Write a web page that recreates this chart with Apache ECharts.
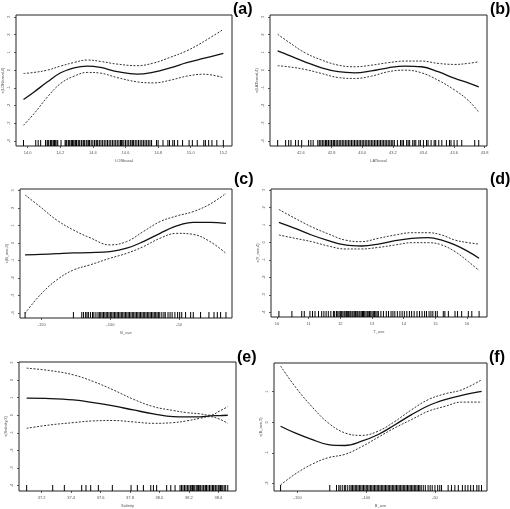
<!DOCTYPE html>
<html><head><meta charset="utf-8">
<script src="https://cdn.jsdelivr.net/npm/echarts@6/dist/echarts.min.js"></script>
<style>html,body{margin:0;padding:0;background:#fff}#c{width:510px;height:509px}</style>
</head><body><div id="c"></div>
<script>
// ---------- Panel (a) ----------
const xA = [13.975, 14.040, 14.122, 14.203, 14.285, 14.366, 14.447, 14.549, 14.671, 14.773, 14.874, 14.976, 15.078, 15.200];
const fitA = [-1.66, -1.23, -0.66, -0.15, 0.13, 0.23, 0.15, -0.08, -0.23, -0.11, 0.13, 0.42, 0.66, 0.94];
const upA = [-0.19, -0.13, 0.00, 0.23, 0.43, 0.57, 0.49, 0.34, 0.25, 0.40, 0.72, 1.09, 1.60, 2.30];
const loA = [-3.11, -2.45, -1.51, -0.75, -0.34, -0.13, -0.17, -0.42, -0.66, -0.72, -0.57, -0.34, -0.23, -0.42];
const rugA = [13.975, 14.05, 14.065, 14.08, 14.11, 14.12, 14.125, 14.13, 14.14, 14.145, 14.15, 14.16, 14.165, 14.17, 14.18, 14.185, 14.205, 14.23, 14.235, 14.24, 14.25, 14.255, 14.26, 14.27, 14.275, 14.28, 14.29, 14.295, 14.30, 14.31, 14.315, 14.32, 14.33, 14.34, 14.345, 14.35, 14.36, 14.37, 14.375, 14.38, 14.39, 14.40, 14.41, 14.42, 14.425, 14.43, 14.44, 14.45, 14.46, 14.47, 14.48, 14.49, 14.50, 14.51, 14.52, 14.53, 14.54, 14.55, 14.56, 14.57, 14.575, 14.58, 14.59, 14.60, 14.61, 14.62, 14.63, 14.64, 14.645, 14.65, 14.66, 14.67, 14.68, 14.69, 14.70, 14.71, 14.72, 14.73, 14.74, 14.75, 14.76, 14.79, 14.80, 14.83, 14.86, 14.87, 14.89, 14.90, 14.92, 14.95, 14.99, 15.01, 15.04, 15.08, 15.09, 15.11, 15.13, 15.16, 15.20];
const xTicksA = ['14.0', '14.2', '14.4', '14.6', '14.8', '15.0', '15.2'];
// ---------- Panel (b) ----------
const xB = [42.448, 42.517, 42.626, 42.735, 42.844, 42.952, 43.061, 43.170, 43.278, 43.387, 43.496, 43.605, 43.692, 43.761];
const fitB = [1.09, 0.85, 0.47, 0.13, -0.09, -0.15, -0.04, 0.13, 0.23, 0.19, -0.09, -0.47, -0.72, -0.94];
const upB = [2.02, 1.60, 0.98, 0.57, 0.28, 0.19, 0.28, 0.42, 0.51, 0.51, 0.38, 0.32, 0.38, 0.47];
const loB = [0.25, 0.19, 0.04, -0.19, -0.42, -0.47, -0.34, -0.09, 0.00, -0.15, -0.57, -1.13, -1.70, -2.36];
const rugB = [42.448, 42.50, 42.52, 42.535, 42.565, 42.583, 42.605, 42.65, 42.665, 42.68, 42.71, 42.72, 42.73, 42.74, 42.75, 42.76, 42.765, 42.77, 42.78, 42.79, 42.80, 42.81, 42.815, 42.82, 42.83, 42.84, 42.85, 42.86, 42.87, 42.88, 42.89, 42.90, 42.91, 42.92, 42.93, 42.94, 42.95, 42.96, 42.97, 42.98, 42.99, 43.00, 43.01, 43.02, 43.03, 43.04, 43.05, 43.06, 43.07, 43.08, 43.09, 43.10, 43.11, 43.12, 43.13, 43.14, 43.15, 43.16, 43.17, 43.18, 43.19, 43.20, 43.21, 43.23, 43.25, 43.26, 43.27, 43.29, 43.30, 43.31, 43.33, 43.34, 43.35, 43.37, 43.38, 43.40, 43.42, 43.43, 43.45, 43.47, 43.48, 43.50, 43.52, 43.55, 43.57, 43.58, 43.60, 43.62, 43.65, 43.735, 43.761];
const xTicksB = ['42.6', '42.8', '43.0', '43.2', '43.4', '43.6', '43.8'];
// ---------- Panel (c) ----------
const xC = [-162.1, -151.2, -139.1, -126.9, -114.8, -100.2, -88.1, -76.0, -63.8, -51.7, -39.6, -27.4, -15.8];
const fitC = [-0.68, -0.65, -0.61, -0.57, -0.55, -0.49, -0.30, 0.08, 0.55, 0.97, 1.18, 1.18, 1.12];
const upC = [2.74, 2.07, 1.31, 0.74, 0.30, -0.11, 0.08, 0.65, 1.22, 1.54, 1.79, 2.22, 2.83];
const loC = [-4.01, -2.97, -2.11, -1.54, -1.25, -0.87, -0.59, -0.21, 0.27, 0.55, 0.49, 0.08, -0.59];
const rugC = [-162.1, -126.9, -120.8, -119.5, -118, -117, -116, -114.5, -113, -112, -110.5, -109, -108, -107, -106, -105, -104, -103, -102, -101, -100, -99, -98, -97, -96, -95, -94, -93, -92, -91, -90, -89, -88, -87, -86, -85, -84, -83, -82, -81, -80, -79, -78, -77, -76, -75, -74, -73, -72, -71, -70, -69, -68, -67, -66, -65, -64, -62.5, -61, -60, -58, -56.5, -55, -53, -51, -49.5, -48, -45.2, -41.5, -39.6, -34.3, -28.2, -24.5, -22.1, -19.7, -15.8];
const xTicksC = ['-150', '-100', '-50'];
// ---------- Panel (d) ----------
const xD = [10.06, 10.57, 11.09, 11.62, 12.15, 12.67, 13.20, 13.73, 14.25, 14.78, 15.20, 15.62, 16.04, 16.38];
const fitD = [1.14, 0.80, 0.42, 0.10, -0.15, -0.21, -0.10, 0.10, 0.23, 0.27, 0.13, -0.15, -0.53, -0.91];
const upD = [1.88, 1.37, 0.89, 0.48, 0.13, 0.04, 0.23, 0.42, 0.55, 0.55, 0.42, 0.13, -0.02, -0.10];
const loD = [0.42, 0.23, 0.04, -0.21, -0.38, -0.38, -0.29, -0.15, -0.02, -0.02, -0.15, -0.53, -1.10, -1.62];
const rugD = [10.06, 10.47, 10.78, 10.86, 11.04, 11.12, 11.20, 11.31, 11.41, 11.48, 11.55, 11.62, 11.70, 11.78, 11.82, 11.88, 11.92, 11.96, 12.00, 12.04, 12.08, 12.12, 12.15, 12.19, 12.22, 12.26, 12.30, 12.33, 12.37, 12.40, 12.44, 12.48, 12.52, 12.55, 12.59, 12.62, 12.66, 12.70, 12.73, 12.77, 12.81, 12.85, 12.88, 12.92, 12.96, 13.00, 13.04, 13.08, 13.12, 13.16, 13.20, 13.28, 13.36, 13.45, 13.52, 13.60, 13.66, 13.72, 13.80, 13.88, 13.95, 14.02, 14.10, 14.18, 14.25, 14.33, 14.42, 14.50, 14.58, 14.66, 14.72, 14.80, 14.86, 14.92, 15.00, 15.06, 15.25, 15.30, 15.41, 15.62, 15.70, 15.83, 16.04, 16.15, 16.38];
const xTicksD = ['10', '11', '12', '13', '14', '15', '16'];
// ---------- Panel (e) ----------
const xE = [37.098, 37.257, 37.415, 37.551, 37.687, 37.823, 37.959, 38.094, 38.185, 38.276, 38.343, 38.411, 38.464];
const fitE = [0.97, 0.95, 0.87, 0.72, 0.53, 0.30, 0.08, -0.08, -0.09, -0.09, -0.04, -0.02, 0.00];
const upE = [2.68, 2.54, 2.30, 1.92, 1.44, 0.91, 0.49, 0.27, 0.15, 0.08, 0.00, 0.25, 0.49];
const loE = [-0.74, -0.55, -0.42, -0.32, -0.30, -0.38, -0.46, -0.42, -0.32, -0.17, -0.08, -0.23, -0.46];
const rugE = [37.098, 37.275, 37.354, 37.472, 37.501, 37.533, 37.585, 37.680, 37.807, 37.850, 37.891, 37.941, 37.959, 37.981, 38.049, 38.077, 38.106, 38.14, 38.15, 38.16, 38.17, 38.18, 38.19, 38.20, 38.21, 38.22, 38.225, 38.23, 38.24, 38.25, 38.26, 38.265, 38.27, 38.28, 38.29, 38.30, 38.31, 38.315, 38.32, 38.33, 38.34, 38.35, 38.36, 38.365, 38.37, 38.38, 38.39, 38.40, 38.41, 38.415, 38.42, 38.43, 38.44, 38.45, 38.464];
const xTicksE = ['37.2', '37.4', '37.6', '37.8', '38.0', '38.2', '38.4'];
// ---------- Panel (f) ----------
const xF = [-162.4, -151.9, -139.8, -127.7, -115.5, -103.4, -91.3, -79.1, -67.0, -54.9, -42.7, -30.6, -16.0];
const fitF = [-0.13, -0.35, -0.56, -0.73, -0.76, -0.62, -0.40, -0.08, 0.25, 0.54, 0.74, 0.88, 1.01];
const upF = [1.84, 1.17, 0.52, -0.02, -0.35, -0.43, -0.29, 0.03, 0.41, 0.74, 0.93, 1.06, 1.39];
const loF = [-2.05, -1.70, -1.38, -1.16, -1.05, -0.80, -0.49, -0.18, 0.09, 0.36, 0.52, 0.66, 0.66];
const rugF = [-162.4, -126.6, -121.7, -120, -119, -117.5, -116, -115, -113.5, -112, -111, -110, -109, -108, -107, -106, -105, -104, -103, -102, -101, -100, -99, -98, -97, -96, -95, -94, -93, -92, -91, -90, -89, -88, -87, -86, -85, -84, -83, -82, -81, -80, -79, -78, -77, -76, -75, -74, -73, -72, -71, -70, -69, -68, -67, -66, -65, -64, -63, -62, -61, -60, -58.5, -57, -55, -53.5, -52, -50, -48, -46.5, -45.2, -40.4, -38, -35.5, -33, -30, -28, -26, -24, -22, -19.5, -18, -16.1];
const xTicksF = ['-150', '-100', '-50'];
// ---------- Y tick labels ----------
const yTicks8 = ['3', '2', '1', '0', '-1', '-2', '-3', '-4'];
const yTicks4 = ['1', '0', '-1', '-2'];
// ---------- Labels ----------
const panelLetters = ['(a)', '(b)', '(c)', '(d)', '(e)', '(f)'];
const xNames = ['LONbasal', 'LATbasal', 'B_ave', 'T_ave', 'Salinity', 'B_ave'];
const yNames = ['s(LONbasal,4)', 's(LATbasal,4)', 's(B_ave,4)', 's(T_ave,4)', 's(Salinity,3)', 's(B_ave,3)'];

// ---------- Layout (positions/styles) ----------
const panels = [
  {x: xA, fit: fitA, up: upA, lo: loA, rug: rugA, xt: xTicksA, yt: yTicks8, grid: [15, 15, 217, 131], xr: [13.929, 15.253], yr: [-4.277, 3.107], letter: [233, 2]},
  {x: xB, fit: fitB, up: upB, lo: loB, rug: rugB, xt: xTicksB, yt: yTicks8, grid: [270, 15, 217, 131], xr: [42.398, 43.815], yr: [-4.277, 3.107], letter: [490, 2]},
  {x: xC, fit: fitC, up: upC, lo: loC, rug: rugC, xt: xTicksC, yt: yTicks8, grid: [20, 189, 212, 129], xr: [-165.8, -11.4], yr: [-4.28, 3.08], letter: [234, 172]},
  {x: xD, fit: fitD, up: upD, lo: loD, rug: rugD, xt: xTicksD, yt: yTicks8, grid: [271, 189, 216, 128], xr: [9.81, 16.63], yr: [-4.27, 3.05], letter: [490, 172]},
  {x: xE, fit: fitE, up: upE, lo: loE, rug: rugE, xt: xTicksE, yt: yTicks8, grid: [19, 362, 217, 129], xr: [37.046, 38.52], yr: [-4.31, 3.03], letter: [237, 350]},
  {x: xF, fit: fitF, up: upF, lo: loF, rug: rugF, xt: xTicksF, yt: yTicks4, grid: [274, 363, 213, 129], xr: [-167.2, -12.1], yr: [-2.25, 1.94], letter: [489, 350]}
];

const FONT = 'Liberation Sans, Arial, sans-serif';
const grids = [], xAxes = [], yAxes = [], series = [], titles = [];
panels.forEach((p, i) => {
  grids.push({left: p.grid[0], top: p.grid[1], width: p.grid[2], height: p.grid[3], show: true,
    borderColor: '#222', borderWidth: 1, backgroundColor: 'rgba(0,0,0,0)', containLabel: false});
  const xv = p.xt.map(Number), yv = p.yt.map(Number);
  xAxes.push({gridIndex: i, type: 'value', min: p.xr[0], max: p.xr[1], position: 'bottom',
    name: xNames[i], nameLocation: 'middle', nameGap: 13,
    nameTextStyle: {fontSize: 4, color: '#555', fontFamily: FONT},
    axisLine: {show: false, onZero: false}, splitLine: {show: false},
    axisTick: {show: true, length: 2, customValues: xv, lineStyle: {color: '#333', width: 0.8}},
    axisLabel: {fontSize: 4, color: '#555', fontFamily: FONT, margin: 5, customValues: xv,
      formatter: v => p.xt[xv.findIndex(t => Math.abs(t - v) < 1e-9)] || ''}});
  yAxes.push({gridIndex: i, type: 'value', min: p.yr[0], max: p.yr[1], position: 'left',
    name: yNames[i], nameLocation: 'middle', nameGap: 11, nameRotate: 90,
    nameTextStyle: {fontSize: 4, color: '#555', fontFamily: FONT},
    axisLine: {show: false, onZero: false}, splitLine: {show: false},
    axisTick: {show: true, length: 2, customValues: yv, lineStyle: {color: '#333', width: 0.8}},
    axisLabel: {fontSize: 4, color: '#555', fontFamily: FONT, margin: 5, rotate: 90, customValues: yv,
      formatter: v => p.yt[yv.findIndex(t => Math.abs(t - v) < 1e-9)] || ''}});
  const zip = ys => p.x.map((x, k) => [x, ys[k]]);
  series.push({type: 'line', xAxisIndex: i, yAxisIndex: i, data: zip(p.fit), smooth: 0.4, symbol: 'none',
    lineStyle: {color: '#111', width: 1.3}, silent: true, z: 3});
  [p.up, p.lo].forEach(arr => series.push({type: 'line', xAxisIndex: i, yAxisIndex: i, data: zip(arr), smooth: 0.4,
    symbol: 'none', lineStyle: {color: '#333', width: 1, type: [2, 1.5]}, silent: true, z: 2}));
  series.push({type: 'custom', xAxisIndex: i, yAxisIndex: i, data: p.rug.map(v => [v, 0]),
    encode: {x: 0, y: 1}, silent: true, z: 4,
    renderItem: (params, api) => {
      const pt = api.coord([api.value(0), 0]);
      const cs = params.coordSys;
      const yb = cs.y + cs.height;
      return {type: 'line', shape: {x1: pt[0], y1: yb, x2: pt[0], y2: yb - 6},
        style: {stroke: '#000', lineWidth: 1}};
    }});
  titles.push({text: panelLetters[i], left: p.letter[0], top: p.letter[1], padding: 0,
    textStyle: {fontSize: 16, fontWeight: 'bold', color: '#000', fontFamily: FONT}});
});

const chart = echarts.init(document.getElementById('c'), null, {renderer: 'canvas'});
chart.setOption({animation: false, backgroundColor: '#fff', title: titles,
  grid: grids, xAxis: xAxes, yAxis: yAxes, series: series});
</script>
</body></html>
